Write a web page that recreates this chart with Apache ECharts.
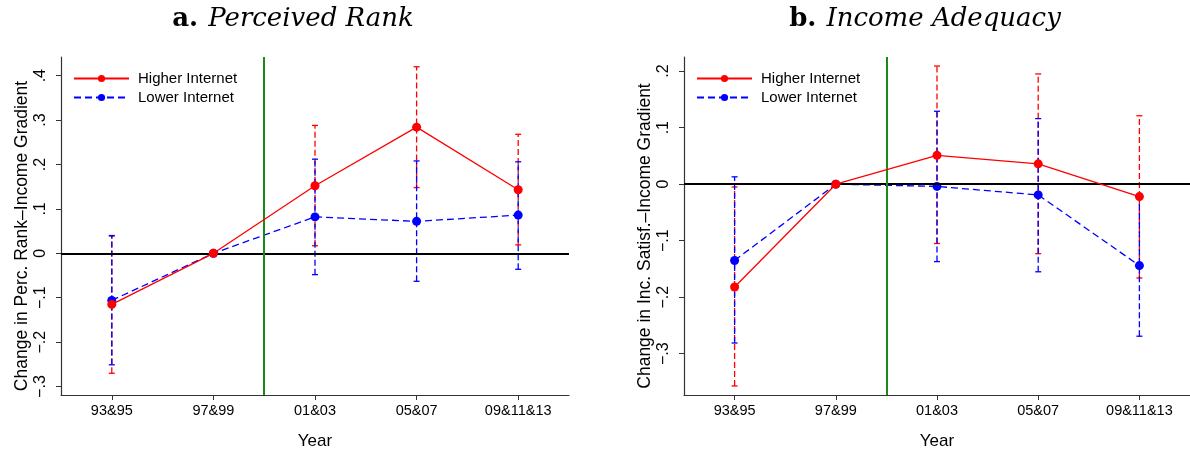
<!DOCTYPE html>
<html>
<head>
<meta charset="utf-8">
<script src="https://cdn.jsdelivr.net/npm/echarts@6/dist/echarts.min.js"></script>
<style>
  html, body { margin: 0; padding: 0; background: #fff; }
  #chart { width: 1190px; height: 455px; }
</style>
</head>
<body>
<div id="chart"></div>
<script>
  // data
  var years = ['93&95', '97&99', '01&03', '05&07', '09&11&13'];

  // a. Perceived Rank
  var rankHigh = [-0.115, 0, 0.152, 0.284, 0.143];
  var rankHighLo = [-0.270, null, 0.017, 0.148, 0.019];
  var rankHighHi = [0.039, null, 0.288, 0.420, 0.268];
  var rankLow = [-0.106, 0, 0.082, 0.072, 0.086];
  var rankLowLo = [-0.251, null, -0.048, -0.063, -0.036];
  var rankLowHi = [0.040, null, 0.212, 0.208, 0.206];

  // b. Income Adequacy
  var incHigh = [-0.182, 0, 0.051, 0.036, -0.022];
  var incHighLo = [-0.357, null, -0.105, -0.123, -0.166];
  var incHighHi = [-0.005, null, 0.209, 0.195, 0.121];
  var incLow = [-0.135, 0, -0.004, -0.019, -0.144];
  var incLowLo = [-0.281, null, -0.137, -0.155, -0.269];
  var incLowHi = [0.013, null, 0.129, 0.116, -0.018];

  var rankTicks = [-0.3, -0.2, -0.1, 0, 0.1, 0.2, 0.3, 0.4];
  var incTicks = [-0.3, -0.2, -0.1, 0, 0.1, 0.2];
  var yearTicks = [1, 2, 3, 4, 5];
  var breakAt = 2.5;

  var RED = '#ff0000', BLUE = '#0000ff', GREEN = '#1b8a1b';
  var FONT = 'Liberation Sans, Arial, sans-serif';
  var SERIF = 'DejaVu Serif, serif';

  function pts(vals) {
    return vals.map(function (v, i) { return [i + 1, v]; });
  }
  function bars(lo, hi) {
    var out = [];
    for (var i = 0; i < lo.length; i++) {
      if (lo[i] !== null) out.push([i + 1, lo[i], hi[i]]);
    }
    return out;
  }
  function fmtY(v) {
    if (Math.abs(v) < 1e-9) return '0';
    var s = Math.abs(v).toFixed(1).replace(/^0/, '');
    return (v < 0 ? '\u2212' : '') + s;
  }

  function errBar(color) {
    return function (params, api) {
      var x = api.value(0);
      var p0 = api.coord([x, api.value(1)]);
      var p1 = api.coord([x, api.value(2)]);
      var st = { stroke: color, lineWidth: 1.3, lineDash: [6, 3] };
      var cap = { stroke: color, lineWidth: 1.3 };
      return {
        type: 'group',
        children: [
          { type: 'line', shape: { x1: p0[0], y1: p0[1], x2: p1[0], y2: p1[1] }, style: st },
          { type: 'line', shape: { x1: p0[0] - 3, y1: p0[1], x2: p0[0] + 3, y2: p0[1] }, style: cap },
          { type: 'line', shape: { x1: p1[0] - 3, y1: p1[1], x2: p1[0] + 3, y2: p1[1] }, style: cap }
        ]
      };
    };
  }

  function xAxisFor(gi) {
    return {
      type: 'value', gridIndex: gi, min: 0.5, max: 5.5,
      name: 'Year', nameLocation: 'middle', nameGap: 38,
      nameTextStyle: { fontFamily: FONT, fontSize: 17, color: '#000' },
      axisLine: { onZero: false, lineStyle: { color: '#333', width: 1.2 } },
      axisTick: { length: 5, lineStyle: { color: '#333' }, customValues: yearTicks },
      axisLabel: {
        customValues: yearTicks, margin: 8, color: '#000', fontFamily: FONT, fontSize: 14.5,
        formatter: function (v) { return years[Math.round(v) - 1]; }
      },
      splitLine: { show: false }
    };
  }
  function yAxisFor(gi, min, max, ticks, name) {
    return {
      type: 'value', gridIndex: gi, min: min, max: max,
      name: name, nameLocation: 'middle', nameGap: 30,
      nameTextStyle: { fontFamily: FONT, fontSize: 17.5, color: '#000', padding: [0, 20, 0, 0] },
      axisLine: { show: true, onZero: false, lineStyle: { color: '#333', width: 1.2 } },
      axisTick: { show: true, length: 5, lineStyle: { color: '#333' }, customValues: ticks },
      axisLabel: {
        customValues: ticks, rotate: 90, margin: 12, color: '#000', fontFamily: FONT, fontSize: 16,
        formatter: fmtY
      },
      splitLine: { show: false }
    };
  }

  function panelSeries(gi, high, hlo, hhi, low, llo, lhi) {
    return [
      {
        name: 'ref' + gi, type: 'line', xAxisIndex: gi, yAxisIndex: gi, data: [], z: 1,
        markLine: {
          silent: true, symbol: 'none', label: { show: false }, animation: false,
          data: [
            { yAxis: 0, lineStyle: { color: '#000', width: 1.8, type: 'solid' } },
            { xAxis: breakAt, lineStyle: { color: GREEN, width: 2, type: 'solid' } }
          ]
        }
      },
      {
        name: 'ciHigh' + gi, type: 'custom', xAxisIndex: gi, yAxisIndex: gi, z: 2,
        renderItem: errBar(RED), data: bars(hlo, hhi), silent: true
      },
      {
        name: 'ciLow' + gi, type: 'custom', xAxisIndex: gi, yAxisIndex: gi, z: 3,
        renderItem: errBar(BLUE), data: bars(llo, lhi), silent: true
      },
      {
        name: 'Lower Internet', type: 'line', xAxisIndex: gi, yAxisIndex: gi, z: 4,
        data: pts(low), symbol: 'circle', symbolSize: 9,
        itemStyle: { color: BLUE },
        lineStyle: { color: BLUE, width: 1.3, type: [7, 4] }
      },
      {
        name: 'Higher Internet', type: 'line', xAxisIndex: gi, yAxisIndex: gi, z: 5,
        data: pts(high), symbol: 'circle', symbolSize: 9,
        itemStyle: { color: RED },
        lineStyle: { color: RED, width: 1.3 }
      }
    ];
  }

  function legendAt(left) {
    return {
      left: left, top: 66, orient: 'vertical', itemWidth: 55, itemHeight: 9, itemGap: 4,
      data: ['Higher Internet', 'Lower Internet'],
      textStyle: { fontFamily: FONT, fontSize: 15, color: '#000', padding: [0, 0, 0, 4] }
    };
  }

  var titleRich = {
    b: { fontFamily: SERIF, fontWeight: 'bold', fontSize: 26, color: '#000' },
    i: { fontFamily: SERIF, fontStyle: 'italic', fontWeight: 'normal', fontSize: 26, color: '#000' }
  };

  var chart = echarts.init(document.getElementById('chart'), null, { renderer: 'canvas' });
  chart.setOption({
    animation: false,
    backgroundColor: '#fff',
    title: [
      { text: '{b|a.}  {i|Perceived Rank}', left: 288, top: 1, textAlign: 'center', textStyle: { rich: titleRich } },
      { text: '{b|b.}  {i|Income Adequacy}', left: 920, top: 1, textAlign: 'center', textStyle: { rich: titleRich } }
    ],
    legend: [legendAt(68), legendAt(691)],
    grid: [
      { left: 61, top: 57, width: 508, height: 341 },
      { left: 684, top: 57, width: 508, height: 341 }
    ],
    xAxis: [xAxisFor(0), xAxisFor(1)],
    yAxis: [
      yAxisFor(0, -0.319, 0.442, rankTicks, 'Change in Perc. Rank\u2013Income Gradient'),
      yAxisFor(1, -0.373, 0.225, incTicks, 'Change in Inc. Satisf.\u2013Income Gradient')
    ],
    series: panelSeries(0, rankHigh, rankHighLo, rankHighHi, rankLow, rankLowLo, rankLowHi)
      .concat(panelSeries(1, incHigh, incHighLo, incHighHi, incLow, incLowLo, incLowHi))
  });
</script>
</body>
</html>
